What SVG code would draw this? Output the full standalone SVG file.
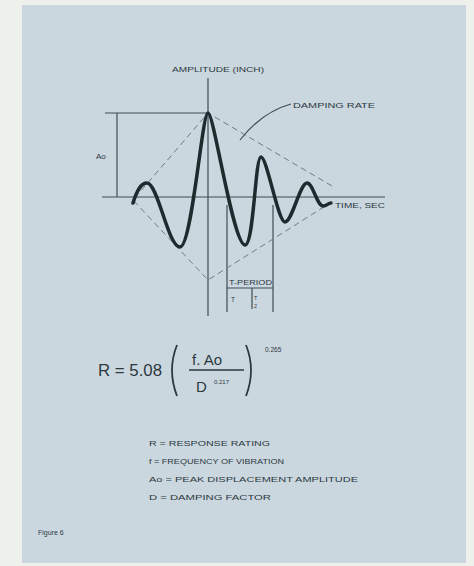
<svg xmlns="http://www.w3.org/2000/svg" width="474" height="566" viewBox="0 0 474 566">
<style>
.t{font-family:"Liberation Sans",Arial,sans-serif;fill:#2c393f}
.ax{stroke:#3e4c54;stroke-width:1.2;fill:none}
.dash{stroke:#6d7d86;stroke-width:1;stroke-dasharray:6 4;fill:none}
.wave{stroke:#1e2b2e;stroke-width:3.5;fill:none;stroke-linecap:round;stroke-linejoin:round}
</style>
<rect x="0" y="0" width="474" height="566" fill="#eef0ec"/>
<rect x="22" y="5" width="444" height="558" fill="#cbd7df"/>
<g id="axes">
<line class="ax" x1="208" y1="78" x2="208" y2="316"/>
<line class="ax" x1="102" y1="197" x2="385" y2="197"/>
<line class="ax" x1="105" y1="113" x2="208" y2="113"/>
<line class="ax" x1="117" y1="113" x2="117" y2="197"/>
<line class="ax" x1="227" y1="205" x2="227" y2="312"/>
<line class="ax" x1="273" y1="205" x2="273" y2="312"/>
<line class="ax" x1="227" y1="288" x2="273" y2="288"/>
<line class="ax" x1="252" y1="288" x2="252" y2="309"/>
</g>
<g id="envelope">
<polyline class="dash" points="332,186 208,113 133,200 208,280 327,205"/>
</g>
<g id="wave">
<path class="wave" d="M133,203 C137,190 141,183 147,183 C158,183 168,247 180,247 C192,247 202,113 208,113 C214,113 233,245 245,245 C254,245 255,157 261,157 C267,157 278,222 285,222 C292,222 300,183 307,183 C313,183 317,206 323,206 C327,206 328,203 331,203"/>
</g>
<g id="connectors">
<path class="ax" d="M291,104 Q262,112 240,140" stroke-width="1"/>
</g>
<g id="labels">
<text class="t" x="218" y="72" font-size="7.5" text-anchor="middle" textLength="92" lengthAdjust="spacingAndGlyphs">AMPLITUDE (INCH)</text>
<text class="t" x="293" y="108" font-size="7.5" textLength="82" lengthAdjust="spacingAndGlyphs">DAMPING RATE</text>
<text class="t" x="96" y="159" font-size="8">Ao</text>
<text class="t" x="335" y="208" font-size="7.5" textLength="50" lengthAdjust="spacingAndGlyphs">TIME, SEC</text>
<text class="t" x="229" y="285" font-size="6.5" textLength="43" lengthAdjust="spacingAndGlyphs">T-PERIOD</text>
<text class="t" x="231" y="302" font-size="6.5">T</text>
<text class="t" x="254" y="300" font-size="5.5">T</text>
<text class="t" x="254" y="308" font-size="5.5">2</text>
</g>
<g id="formula">
<text class="t" x="98" y="376" font-size="16" textLength="64" lengthAdjust="spacingAndGlyphs">R = 5.08</text>
<path d="M177,345 Q167,370 177,396" stroke="#2c393f" stroke-width="1.8" fill="none"/>
<path d="M246,345 Q256,370 246,396" stroke="#2c393f" stroke-width="1.8" fill="none"/>
<text class="t" x="192" y="365" font-size="15">f. Ao</text>
<line x1="189" y1="370" x2="244" y2="370" stroke="#2c393f" stroke-width="1.6"/>
<text class="t" x="196" y="392" font-size="15">D</text>
<text class="t" x="214" y="384" font-size="6">0.217</text>
<text class="t" x="265" y="352" font-size="6.5">0.265</text>
</g>
<g id="legend">
<text class="t" x="149" y="446" font-size="8" textLength="121" lengthAdjust="spacingAndGlyphs">R = RESPONSE RATING</text>
<text class="t" x="149" y="464" font-size="8" textLength="135" lengthAdjust="spacingAndGlyphs">f = FREQUENCY OF VIBRATION</text>
<text class="t" x="149" y="482" font-size="8" textLength="209" lengthAdjust="spacingAndGlyphs">Ao = PEAK DISPLACEMENT AMPLITUDE</text>
<text class="t" x="149" y="500" font-size="8" textLength="122" lengthAdjust="spacingAndGlyphs">D = DAMPING FACTOR</text>
</g>
<text class="t" x="38" y="535" font-size="7">Figure 6</text>
</svg>
